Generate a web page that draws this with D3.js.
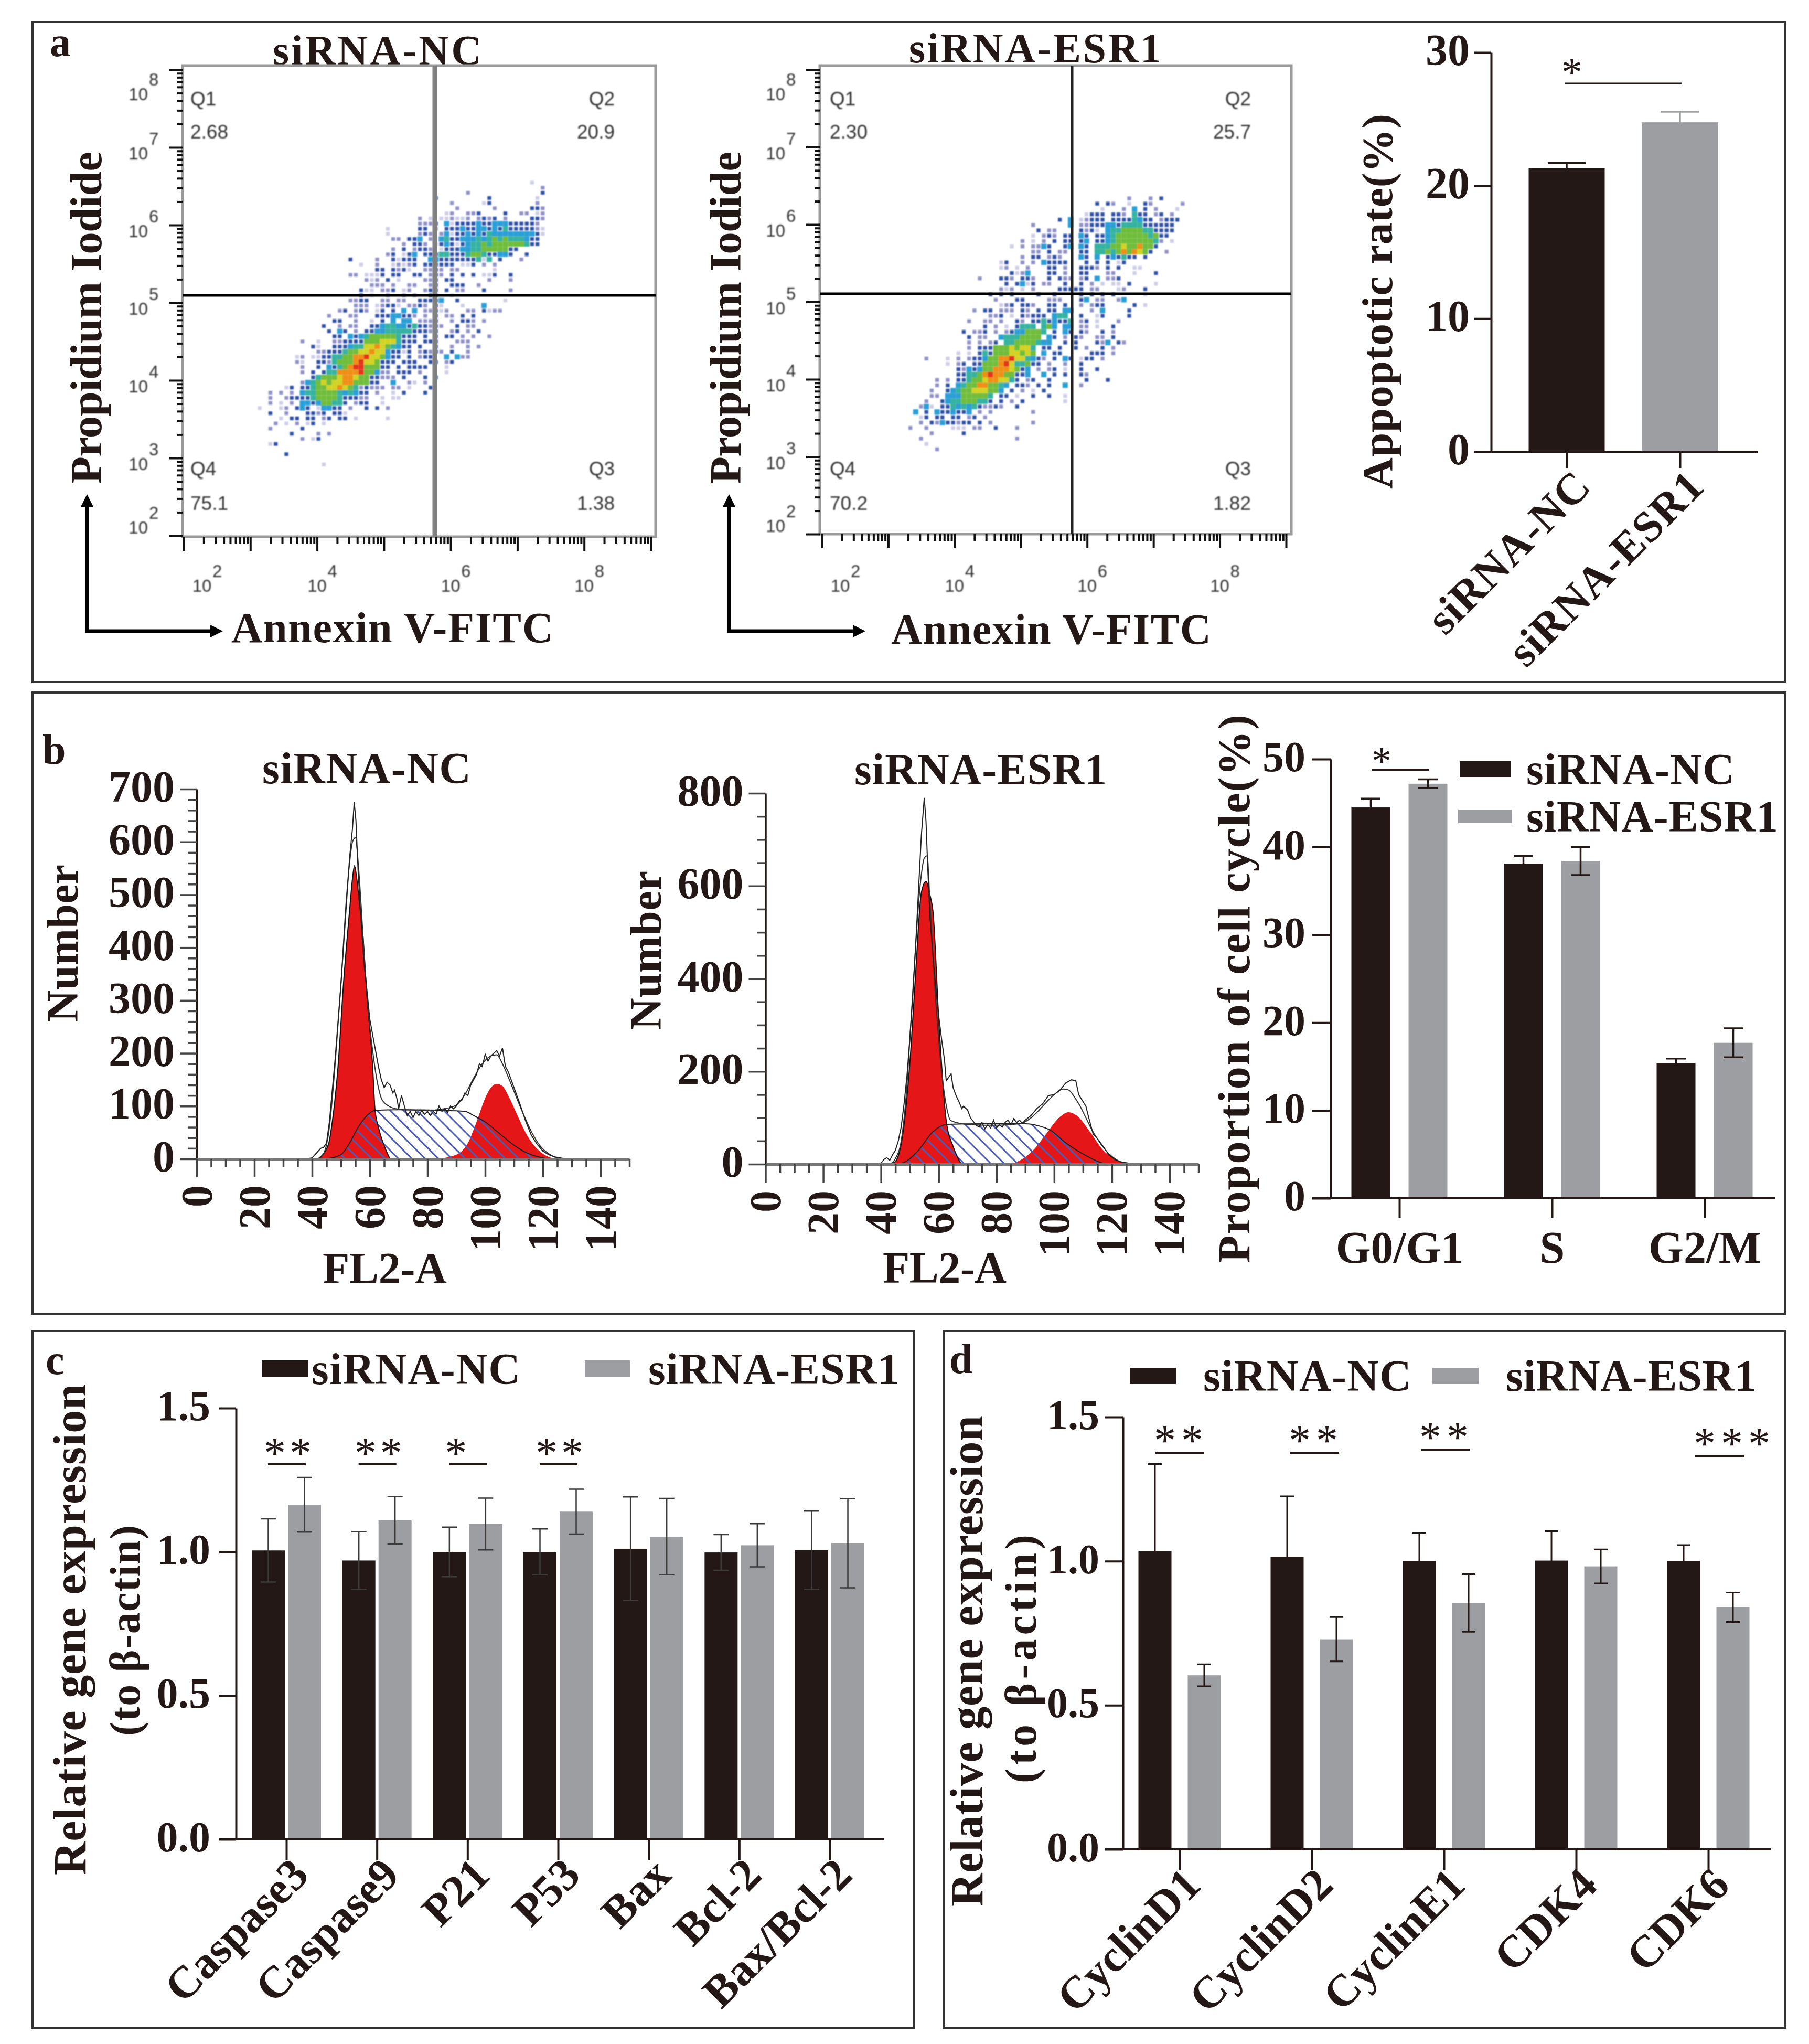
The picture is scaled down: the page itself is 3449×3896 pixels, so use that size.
<!DOCTYPE html>
<html>
<head>
<meta charset="utf-8">
<script src="https://cdn.jsdelivr.net/npm/d3@7"></script>
<style>
    body { margin: 0; background: #fff; }
    text { font-family: "Liberation Serif", serif; font-weight: bold; fill: #231815; }
    text.star { font-weight: normal; }
    .flowtxt text { font-family: "Liberation Sans", sans-serif; font-weight: normal; fill: #333; }
</style>
</head>
<body>
<svg width="3449" height="3896"></svg>
<script>
const black = '#231815', grey = '#9d9ea2';
const groups = ['siRNA-NC', 'siRNA-ESR1'];

// panel a, bars
const apoptosis = [21.3, 24.75];
const apoptosisErr = [0.4, 0.8];
const apoptosisTicks = [0, 10, 20, 30];

// panel a, quadrant percentages
const quadNC = ['2.68', '20.9', '1.38', '75.1'];
const quadESR = ['2.30', '25.7', '1.82', '70.2'];
const flowExpY = [8, 7, 6, 5, 4, 3, 2];
const flowExpX = [2, 4, 6, 8];

// panel a, density, one char per cell (. = empty, 1 pale ... 9 red)
const densityNC = [
".......... .......... .......... .......... .......... ..1",
".......... .......... .......... .......... .......... ....2",
".......... .......... .......... .......... 2......... ....3",
".......... .......... .......... ....3..... ....3..... ...1",
".......... .......... .......... .......2.. ...13..... ...2",
".......... .......... .......... ........2. .....2.... ..332",
".......... .......... .......... ......12.. 223....3.. 22.12",
".......... .......... .......... .2.1.11211 2.2323.2.. ..332",
".......... .......... .......... .2223.4133 3343344433 3332",
".......... .......... .....1.... .33.2.3334 3344343533 33321",
".......... .......... .....1.... .232.24133 4343544444 44431",
".......... .......... ......22.3 34.2.45334 4454565655 5433",
".......... .......... ........2. 332.134313 4556566666 6533",
".......... .......... ......2.3. 2332.13334 4556666633",
".......... .......... .....23.13 4.33355333 566533443. .3",
".......... ........3. ...2..3133 3..4433333 33515.3... 2",
".......... .......... 1..2..1212 3.333333.1 13.2.2",
".......... .......... ...33.3231 ..2232.22. .....1",
".......... ........22 .1113.33.. 33.232.3.3 .3.113..3",
".......... .......... .212.3.1.. ..223.33.. ....2...2",
".......... .......... ..222.2..2 2..23..333 ..2",
".......... .......... 311.223.12 ..233.3.22 ...3....2",
".......... .......... 3.1..2..2. 2..33..1..",
".......... ........22 33..22.22. .33334..3. .......1",
".......... .........2 22.12331.2 232.31...1 ...4",
".......... ......23.2 32.13.3.4. 4.22312... 22.3122",
".......... ....2...22 ...3334433 2.2.3.22.3 .3",
".......... .....33..2 ..1.3.4.44 .2223..2.3 32.2",
".......... ...3..2.22 ..33455443 533232..3. 22",
".......... ....3.43.2 .334455555 33323..23. 2.3",
".......... .....33.43 4566666533 3.3.3.33.2 .2..2",
".........2 ..1..22333 3666777533 3.333...22 2",
".......... .31..33345 5778765433 .3..3..2.. 2.2",
".......... ..22333566 7787743313 .23232.3.. 2",
"........12 .113355668 89776433.3 .233..4.42 2",
"........21 ..33256668 9776333.33 3..33.23..",
".........2 ..3.435689 966633.3.3 333...1...",
".........2 .3.3558888 966422.333 .2....1...",
".......... .356667887 6633222.3. ..3.3",
".........2 4567677886 6633..4..2 1.2",
"......13.3 3566778765 23222.22.1 ...3",
"...2.2.2.4 5566665454 33.2..1.3. ..3",
"...2..2333 3566665333 22..1.11",
"...2.1.2.4 43466553.2 33..1",
".1...12.34 3.14433.2. .3.3.2",
"...3..2... 3323.331",
".....1.33. 33.23.33.1 .....1",
"....2.1.2. 13.1",
"...2.....3",
".......3.. ..2.2",
".........2 .13",
"...13",
"",
"......3",
"",
".......... ...1"
];
const densityESR = [
"",
".......... .......... .......... .......... .2...2.3..",
".......... .......... .......... .....3.32. .1..32.... .2",
".......... .......... .......... ......1... 2.4.3.2... 1",
".......... .......... .......... ...1333.33 2.533.23.2",
".......... .......... ........3. 4.12333.33 335433.233 3",
".......... .......... ...2...... 4.22333443 5555333333",
".......... .......... ....3.22.. ..3231.455 6666553333",
".......... .......... ...1.232.3 3.43.33456 666665633.",
".......... .......... .2.1.2.3.3 3.34.33456 66666652.1",
".......... .........1 .2.2243..3 4.43.55566 7668663...",
".......... .......... ...22.3.22 ..33.55656 868763..2.",
".......... .......... .2.33.232. ..43.4.343 533.3.....",
".......... .......13. .2.2.43333 ...3.3.3.1 3",
".......... .......12. 1.2...33.2 ..3332.3.3 ..11",
".......... .........3 124...33.2 ..33...22. ..1...3",
".......... ...2...332 .332..3.32 2.23.4.223",
".......... ........3. 3413.22..3 ..3.2.1.11 .3....1",
".......... .......212 .1.2....33 333.22...1 2...3",
".......... .....3.3.3 ....3..3.. ..3.3.3.3. ....1",
".......... ......2... 33....222. ..34.22..2 4",
".......... .......123 .332..33.3 ..2.233... ..3.1",
".......... ..2.33.222 .32.3.33.4 4...2.4... .3",
".......... .....223.1 .32333.455 ..3..13... .3",
".......... .2..22.2.. 32.3353433 5.23.1...2",
".......... ....3.2.1. 3555.564.4 4.22.1..3.",
".......... 3.223.2.23 446665.3.4 3.32..3.2.",
".......... .3.22..455 56666.43.2 .32..22.3.",
".......... .2.2.23.55 6666544..3 .3...324.3 2",
".......... .2.3336667 6775.33.3. .3.2..3.2.",
".........1 .1.3536667 7676.4.33. ....333.2.",
"...2...1.2 .233466889 775432.3.4 3.133.2...",
".......1.2 3.33666897 55633.2..2 ..3",
".........3 2434668887 634.2.23.1 ..3..3",
".........3 3556898866 334..4.3.3 ..32",
".....2.2.3 3566788775 3.23..3... ...3...3",
".....2.3.4 566886654. 332.3.3..4 ..2",
"....2..345 66777664.3 .2.1.3",
"....22.444 666665.33. 1..3..3..1",
"...2..3455 666553.3.2 .3.......1",
"..241.3354 54532232.. 3",
".4.3.43343 34.2.2.... ...2",
"..13.33.33 .23.2",
"..2.324332 33.3.2.... ...2",
"2..2....11 1.22..3... 2",
"....2..... 3",
"..2....... .......... 2",
"...1",
".....2"
];
const densityColors = ['#cdcde6', '#8f90c6', '#2f4fa3', '#2b9fd6', '#34b3a0', '#6fbd3a', '#d2d321', '#ef8f12', '#e5301a'];

// panel b, histograms (channel, count)
const g1NC = [[42,0],[45.7,28],[47,70],[49,175],[51,340],[53,470],[54,530],[54.7,555],[55.5,530],[56.5,480],[57.5,432],[59,310],[61,175],[61.8,94],[63,60],[65,25],[67,0]];
const sNC = [[45,0],[50,8],[53,30],[56,60],[59,82],[62,92],[70,93],[85,92],[93,90],[96,82],[100,70],[105,48],[110,26],[115,10],[120,2],[122,0]];
const g2NC = [[83,0],[90,8],[94,30],[97,70],[100,115],[102,135],[104,142],[106,138],[108,120],[111,85],[114,50],[117,25],[120,10],[124,0]];
const rawNC = [[38,0],[40,2],[41,8],[42,14],[43,20],[44,22],[45,30],[46,70],[47,130],[48,190],[49,260],[50,330],[51,410],[52,490],[53,570],[54,625],[54.6,675],[55.2,640],[56,540],[57,450],[58,370],[59,320],[60,265],[61,235],[62,205],[63,175],[64,150],[65,135],[66,145],[67,140],[68,125],[68.6,130],[69.5,112],[70,95],[71,120],[72,100],[73,82],[74,90],[75,78],[76,90],[77,82],[78,92],[79,84],[80,90],[81,82],[82,90],[83,85],[84,100],[85,90],[86,95],[87,88],[88,100],[89,95],[90,100],[91,110],[92,112],[93,125],[94,120],[95,140],[96,150],[97,160],[98,180],[99,175],[100,198],[101,185],[102,195],[103,200],[104,205],[105,195],[106,210],[107,175],[108,165],[109,150],[110,135],[112,105],[114,72],[116,45],[118,28],[120,15],[122,8],[124,4],[126,2],[128,0]];
const fitNC = [[42,0],[44,10],[46,60],[48,180],[50,330],[52,500],[53,560],[54,600],[55,608],[56,560],[57,480],[58,390],[59,310],[60,250],[61,205],[62,165],[63,135],[64,115],[66,102],[69,95],[72,93],[80,92],[86,95],[90,102],[93,122],[96,153],[99,180],[102,195],[104,197],[106,180],[108,155],[110,128],[113,88],[116,52],[119,25],[122,10],[125,2],[128,0]];

const g1ESR = [[43,0],[45,6],[47.5,62],[50.4,252],[52,411],[54,586],[55.6,610],[57,580],[58,546],[60.2,292],[62.6,94],[65,38],[67.8,0]];
const sESR = [[46,0],[48.7,6],[53,30],[58,70],[63,86],[75,87],[90,87],[95,82],[98.5,74],[104,46],[110,22],[117,2],[119,0]];
const g2ESR = [[84,0],[85.7,2],[92.7,30],[97.3,66],[102,102],[105,112],[107.8,105],[112.4,70],[117,30],[122,8],[125,0]];
const rawESR = [[38,0],[40,2],[41,10],[42,14],[43,8],[44,20],[45,30],[46,50],[47,80],[48,130],[49,190],[50,270],[51,360],[52,470],[53,590],[54,710],[55,790],[55.6,740],[56.2,640],[57,530],[58,450],[59,380],[60,320],[61,270],[62,225],[62.6,180],[63.2,185],[64.3,195],[65,165],[66,148],[67,135],[68,120],[68.6,125],[70,117],[71,100],[72,92],[73,84],[74,80],[75,90],[76,76],[77,85],[78,78],[79,95],[80,78],[81,85],[82,80],[83,90],[84,95],[85,85],[86,98],[87,90],[88,95],[89,88],[90,95],[92,105],[94,120],[96,130],[98,148],[100,150],[102,160],[104,175],[106,182],[107.5,180],[108.5,150],[110,135],[111,125],[112,100],[113.5,65],[115,55],[117,38],[119,20],[121,10],[123,5],[126,2],[130,0]];
const fitESR = [[43,0],[45,12],[47,50],[49,170],[50,270],[51,370],[52,470],[53,560],[54,625],[55,660],[56,665],[57,560],[58,450],[59,350],[60,270],[61,200],[62,150],[63,115],[64,95],[66,90],[72,85],[80,84],[88,87],[92,100],[95,118],[98,138],[101,155],[103,162],[105,160],[107,145],[109,125],[111,100],[113,75],[116,45],[119,22],[122,8],[126,0]];

// panel b, cell cycle bars
const phases = ['G0/G1', 'S', 'G2/M'];
const phaseNC = [44.5, 38.1, 15.4];
const phaseNCErr = [1.0, 0.9, 0.5];
const phaseESR = [47.2, 38.4, 17.7];
const phaseESRErr = [0.5, 1.6, 1.65];
const phaseSig = [[0, '*', 48.8]];

// panel c
const apoGenes = ['Caspase3', 'Caspase9', 'P21', 'P53', 'Bax', 'Bcl-2', 'Bax/Bcl-2'];
const apoNC = [1.005, 0.97, 1.0, 1.0, 1.011, 0.998, 1.006];
const apoNCErr = [0.11, 0.10, 0.086, 0.08, 0.18, 0.062, 0.136];
const apoESR = [1.164, 1.11, 1.097, 1.14, 1.053, 1.023, 1.03];
const apoESRErr = [0.095, 0.082, 0.09, 0.078, 0.133, 0.075, 0.155];
const apoSig = [[0, '**', 1.305], [1, '**', 1.305], [2, '*', 1.305], [3, '**', 1.305]];

// panel d
const cycGenes = ['CyclinD1', 'CyclinD2', 'CyclinE1', 'CDK4', 'CDK6'];
const cycNC = [1.034, 1.014, 1.0, 1.002, 1.0];
const cycNCErr = [0.303, 0.211, 0.097, 0.102, 0.056];
const cycESR = [0.604, 0.729, 0.855, 0.982, 0.84];
const cycESRErr = [0.038, 0.077, 0.1, 0.059, 0.051];
const cycSig = [[0, '**', 1.376], [1, '**', 1.376], [2, '**', 1.387], [4, '***', 1.365]];

const svg = d3.select('svg');
const defs = svg.append('defs');
defs.append('filter').attr('id', 'soft').append('feGaussianBlur').attr('stdDeviation', 0.9);
defs.append('pattern').attr('id', 'hatch')
    .attr('patternUnits', 'userSpaceOnUse')
    .attr('width', 18).attr('height', 18)
    .attr('patternTransform', 'rotate(-45)')
    .append('rect').attr('width', 3).attr('height', 18).attr('fill', '#4a5db2');

// panel frames
const frames = [[62, 42, 3404, 1300], [62, 1320, 3404, 2505], [62, 2537, 1742, 3865], [1799, 2537, 3404, 3865]];
svg.selectAll('rect.frame').data(frames).join('rect')
    .attr('class', 'frame')
    .attr('x', d => d[0]).attr('y', d => d[1])
    .attr('width', d => d[2] - d[0]).attr('height', d => d[3] - d[1])
    .attr('fill', 'none').attr('stroke', '#333').attr('stroke-width', 4);

function label(str, x, y, size, len, rot) {
    const t = svg.append('text')
        .attr('transform', `translate(${x},${y})` + (rot ? ` rotate(${rot})` : ''))
        .attr('font-size', size)
        .text(str);
    if (len) t.attr('textLength', len).attr('lengthAdjust', 'spacing');
    return t;
}

function styleAxis(ax, size, w) {
    ax.select('.domain').attr('stroke', black).attr('stroke-width', w);
    ax.selectAll('.tick line').attr('stroke', black).attr('stroke-width', w);
    ax.selectAll('.tick text').attr('font-size', size).attr('fill', black);
}

// flow plot
function flowPlot(o) {
    const x = d3.scaleLog().domain([1e2, 1e9]).range(o.xr);
    const y = d3.scaleLog().domain([1e2, 1e8]).range(o.yr);
    const g = svg.append('g');
    const major = d => Math.abs(Math.log10(d) % 1) < 1e-6;

    const cells = [];
    o.grid.forEach((row, r) => {
        row.replace(/ /g, '').split('').forEach((c, k) => {
            if (c !== '.') cells.push({ r: r, k: k, v: +c });
        });
    });
    const cx = k => x(Math.pow(10, o.x0 + k * o.dx));
    const cy = r => y(Math.pow(10, o.y0 - r * o.dy));
    const shrink = d => d.v <= 3 ? 0.72 : 1;
    g.append('g').attr('filter', 'url(#soft)')
        .selectAll('rect').data(cells).join('rect')
        .attr('x', d => cx(d.k) + (cx(d.k + 1) - cx(d.k)) * (1 - shrink(d)) / 2)
        .attr('y', d => cy(d.r) + (cy(d.r + 1) - cy(d.r)) * (1 - shrink(d)) / 2)
        .attr('width', d => (cx(d.k + 1) - cx(d.k)) * shrink(d))
        .attr('height', d => (cy(d.r + 1) - cy(d.r)) * shrink(d))
        .attr('fill', d => densityColors[d.v - 1]);

    g.append('rect')
        .attr('x', o.box[0]).attr('y', o.box[1])
        .attr('width', o.box[2] - o.box[0]).attr('height', o.box[3] - o.box[1])
        .attr('fill', 'none').attr('stroke', '#9a9a9a').attr('stroke-width', 5);

    const ay = g.append('g').attr('transform', `translate(${o.box[0]},0)`)
        .call(d3.axisLeft(y).tickValues(y.ticks()).tickFormat('').tickSizeOuter(0));
    ay.select('.domain').remove();
    ay.selectAll('.tick line').attr('stroke', '#111').attr('stroke-width', 4)
        .attr('x2', d => major(d) ? -26 : -10);

    const ax = g.append('g').attr('transform', `translate(0,${o.box[3]})`)
        .call(d3.axisBottom(x).tickValues(x.ticks()).tickFormat('').tickSizeOuter(0));
    ax.select('.domain').remove();
    ax.selectAll('.tick line').attr('stroke', '#111').attr('stroke-width', 4)
        .attr('y2', d => major(d) ? 27 : 13);

    g.append('line').attr('x1', o.qx).attr('x2', o.qx).attr('y1', o.box[1]).attr('y2', o.box[3])
        .attr('stroke', o.qcol).attr('stroke-width', o.qw);
    g.append('line').attr('x1', o.box[0]).attr('x2', o.box[2]).attr('y1', o.qy).attr('y2', o.qy)
        .attr('stroke', '#000').attr('stroke-width', 5);

    const txt = g.append('g').attr('class', 'flowtxt').attr('filter', 'url(#soft)');
    const dyByExp = { 8: 46, 2: -16 };
    flowExpY.forEach(e => {
        const yy = y(Math.pow(10, e)) + (dyByExp[e] !== undefined ? dyByExp[e] : 11);
        txt.append('text').attr('x', o.box[0] - 66).attr('y', yy + 12).attr('text-anchor', 'end').attr('font-size', 33).text('10');
        txt.append('text').attr('x', o.box[0] - 64).attr('y', yy - 16).attr('font-size', 33).text(e);
    });
    flowExpX.forEach(e => {
        const xx = x(Math.pow(10, e)) + (e === 2 ? o.firstDx : 0);
        txt.append('text').attr('x', xx).attr('y', 1128).attr('text-anchor', 'middle').attr('font-size', 33).text('10');
        txt.append('text').attr('x', xx + 20).attr('y', 1100).attr('font-size', 33).text(e);
    });
    const names = ['Q1', 'Q2', 'Q3', 'Q4'];
    names.forEach((n, i) => {
        const right = i === 1 || i === 2;
        const top = i < 2;
        const px = right ? o.qRight : o.qLeft;
        txt.append('text').attr('x', px).attr('y', top ? 201 : 906)
            .attr('text-anchor', right ? 'end' : 'start').attr('font-size', 37).text(n);
        txt.append('text').attr('x', px).attr('y', top ? 264 : 972)
            .attr('text-anchor', right ? 'end' : 'start').attr('font-size', 37).text(o.quad[i]);
    });

    // corner arrow
    const p = d3.path();
    p.moveTo(o.ax, 942); p.lineTo(o.ax - 12, 966); p.lineTo(o.ax + 12, 966); p.closePath();
    p.moveTo(o.axEnd, 1203); p.lineTo(o.axEnd - 24, 1191); p.lineTo(o.axEnd - 24, 1215); p.closePath();
    svg.append('path').attr('d', p.toString()).attr('fill', '#000');
    svg.append('path')
        .attr('d', d3.line()([[o.ax, 960], [o.ax, 1203], [o.axEnd - 20, 1203]]))
        .attr('fill', 'none').attr('stroke', '#000').attr('stroke-width', 7);
}

label('siRNA-NC', 520, 123, 80, 398);
label('siRNA-ESR1', 1733, 119, 80, 481);
flowPlot({
    xr: [350, 1241], yr: [1021, 133], box: [348, 125, 1250, 1023], qx: 829, qy: 563, qcol: '#808080', qw: 9,
    grid: densityNC, x0: 3.02, dx: 0.08, y0: 6.58, dy: 0.066, quad: quadNC,
    firstDx: 35, qLeft: 363, qRight: 1172, ax: 166, axEnd: 425
});
flowPlot({
    xr: [1567, 2452], yr: [1018, 133], box: [1563, 125, 2462, 1018], qx: 2044, qy: 560, qcol: '#222', qw: 5,
    grid: densityESR, x0: 3.294, dx: 0.0805, y0: 6.442, dy: 0.069, quad: quadESR,
    firstDx: 35, qLeft: 1582, qRight: 2385, ax: 1390, axEnd: 1650
});
label('Propidium Iodide', 193, 922, 85, 633, -90);
label('Propidium Iodide', 1412, 922, 85, 633, -90);
label('Annexin V-FITC', 441, 1224, 82, 614);
label('Annexin V-FITC', 1699, 1227, 82, 610);
label('a', 95, 107, 80);

// bars with error bars
function bars(g, cats, vals, errs, x, y, off, bw, cap, col, errCol, errW) {
    const b = g.append('g').selectAll('g').data(cats).join('g')
        .attr('transform', d => `translate(${x(d) + off},0)`);
    b.append('rect')
        .attr('x', -bw / 2).attr('width', bw)
        .attr('y', (d, i) => y(vals[i])).attr('height', (d, i) => y(0) - y(vals[i]))
        .attr('fill', col);
    b.append('path')
        .attr('d', (d, i) => {
            const t = y(vals[i] + errs[i]), m = y(vals[i] - errs[i]);
            return `M${-cap / 2},${t}H${cap / 2}M0,${t}V${m}M${-cap / 2},${m}H${cap / 2}`;
        })
        .attr('fill', 'none').attr('stroke', errCol).attr('stroke-width', errW);
}

function stars(g, x, y, o) {
    o.sig.forEach((s, n) => {
        const cx = x.domain()[s[0]];
        const yy = y(s[2]);
        const shift = o.sigShift ? o.sigShift[n] : 0;
        g.append('line').attr('x1', x(cx) + o.lineL + shift).attr('x2', x(cx) + o.lineR + shift)
            .attr('y1', yy).attr('y2', yy).attr('stroke', black).attr('stroke-width', 4);
        s[1].split('').forEach((c, i) => {
            g.append('text').attr('class', 'star')
                .attr('x', x(cx) + o.starDx + shift + i * o.starGap).attr('y', yy - o.starLift)
                .attr('text-anchor', 'middle').attr('font-size', o.starSize).text(c);
        });
    });
}

function legend(rows) {
    rows.forEach(r => {
        svg.append('rect').attr('x', r.x0).attr('y', r.y0).attr('width', r.x1 - r.x0).attr('height', r.y1 - r.y0).attr('fill', r.c);
        label(r.t, r.tx, r.by, 84, r.len);
    });
}

// panel a bar chart
{
    const x = d3.scalePoint().domain(groups).range([2987, 3203]);
    const y = d3.scaleLinear().domain([0, 30]).range([861, 100]);
    const g = svg.append('g');
    bars(g, groups.slice(0, 1), apoptosis.slice(0, 1), apoptosisErr.slice(0, 1), x, y, 0, 145, 72, black, black, 3.5);
    bars(g, groups.slice(1), apoptosis.slice(1), apoptosisErr.slice(1), x, y, 0, 146, 73, grey, grey, 3.5);
    const ay = g.append('g').attr('transform', 'translate(2843,0)')
        .call(d3.axisLeft(y).tickValues(apoptosisTicks).tickSize(33).tickSizeOuter(0).tickPadding(8));
    styleAxis(ay, 84, 4);
    ay.selectAll('.tick text').attr('dy', '.28em');
    const ax = g.append('g').attr('transform', 'translate(0,861)')
        .call(d3.axisBottom(x).tickSize(31).tickSizeOuter(0));
    styleAxis(ax, 84, 4);
    ax.select('.domain').remove();
    ax.selectAll('.tick text').attr('text-anchor', 'end').attr('x', 0).attr('y', 0).attr('dy', 0)
        .attr('letter-spacing', 1.5)
        .attr('transform', 'translate(50,70) rotate(-45)');
    g.append('line').attr('x1', 2810).attr('x2', 3351).attr('y1', y(0)).attr('y2', y(0)).attr('stroke', black).attr('stroke-width', 4);
    g.append('line').attr('x1', 2984).attr('x2', 3207).attr('y1', 159).attr('y2', 159).attr('stroke', black).attr('stroke-width', 3);
    g.append('text').attr('class', 'star').attr('x', 2997).attr('y', 165).attr('text-anchor', 'middle').attr('font-size', 80).text('*');
    label('Appoptotic rate(%)', 2654, 932, 83, 715, -90);
}

// histogram panels
function histogram(o) {
    const x = d3.scaleLinear().domain([0, 150]).range(o.xr);
    const y = d3.scaleLinear().domain([0, o.ymax]).range(o.yr);
    const g = svg.append('g');
    const area = d3.area().x(d => x(d[0])).y0(y(0)).y1(d => y(d[1])).curve(d3.curveMonotoneX);
    const line = d3.line().x(d => x(d[0])).y(d => y(d[1])).curve(d3.curveMonotoneX);
    const rawLine = d3.line().x(d => x(d[0])).y(d => y(d[1]));

    g.append('path').attr('d', area(o.g1)).attr('fill', '#e41618');
    g.append('path').attr('d', area(o.g2)).attr('fill', '#e41618');
    g.append('path').attr('d', area(o.s)).attr('fill', 'url(#hatch)').attr('stroke', '#222').attr('stroke-width', 2);
    g.append('path').attr('d', line(o.g1)).attr('fill', 'none').attr('stroke', '#111').attr('stroke-width', 2);
    g.append('path').attr('d', line(o.fit)).attr('fill', 'none').attr('stroke', '#333').attr('stroke-width', 2);
    g.append('path').attr('d', rawLine(o.raw)).attr('fill', 'none').attr('stroke', '#222').attr('stroke-width', 2);

    const ay = g.append('g').attr('transform', `translate(${o.xr[0]},0)`)
        .call(d3.axisLeft(y).tickValues(d3.range(0, o.ymax + 1, o.minor)).tickSizeOuter(0)
            .tickFormat(d => d % o.major === 0 ? d : ''));
    styleAxis(ay, 84, 3.5);
    ay.selectAll('.tick line').attr('x2', d => d % o.major === 0 ? -32 : -16).attr('stroke', '#444');
    ay.selectAll('.tick text').attr('x', -42).attr('dy', '.28em');

    const ax = g.append('g').attr('transform', `translate(0,${y(0)})`)
        .call(d3.axisBottom(x).tickValues(d3.range(0, 151, 5)).tickSizeOuter(0)
            .tickFormat(d => d % 20 === 0 && d < 150 ? d : ''));
    styleAxis(ax, 84, 3.5);
    ax.select('.domain').attr('stroke', '#777').attr('stroke-width', 5);
    ax.selectAll('.tick line').attr('y2', d => d % 20 === 0 ? 35 : 16).attr('stroke', '#444');
    ax.selectAll('.tick text').attr('text-anchor', 'end').attr('x', 0).attr('y', 0).attr('dy', 0)
        .attr('transform', 'translate(28,50) rotate(-90)');
}

histogram({ xr: [375, 1200], yr: [2209, 1504], ymax: 700, minor: 20, major: 100, g1: g1NC, s: sNC, g2: g2NC, raw: rawNC, fit: fitNC });
histogram({ xr: [1459.5, 2285], yr: [2219, 1512], ymax: 800, minor: 50, major: 200, g1: g1ESR, s: sESR, g2: g2ESR, raw: rawESR, fit: fitESR });
label('b', 81, 1456, 80);
label('siRNA-NC', 500, 1493, 84, 398);
label('siRNA-ESR1', 1629, 1495, 84, 481);
label('Number', 148, 1948, 84, 300, -90);
label('Number', 1260, 1963, 84, 303, -90);
label('FL2-A', 615, 2446, 84, 237);
label('FL2-A', 1683, 2445, 84, 236);

// grouped bars for b, c and d
function grouped(o) {
    const x = d3.scalePoint().domain(o.cats).range(o.xr);
    const y = d3.scaleLinear().domain(o.dom).range(o.yr);
    const g = svg.append('g');
    bars(g, o.cats, o.nc, o.ncErr, x, y, -o.off, o.bw, o.cap, black, o.errCol, o.errW);
    bars(g, o.cats, o.esr, o.esrErr, x, y, o.off, o.bw, o.cap, grey, o.errCol, o.errW);
    const ay = g.append('g').attr('transform', `translate(${o.axisX},0)`)
        .call(d3.axisLeft(y).tickValues(o.ticks).tickFormat(o.fmt).tickSize(o.axisX - o.tickL).tickSizeOuter(0).tickPadding(o.pad));
    styleAxis(ay, o.tickFont, 4);
    ay.selectAll('.tick text').attr('dy', '.28em');
    const ax = g.append('g').attr('transform', `translate(0,${y(0)})`)
        .call(d3.axisBottom(x).tickSize(o.tickB).tickSizeOuter(0));
    styleAxis(ax, o.catFont, 4);
    ax.select('.domain').remove();
    if (o.rot) {
        ax.selectAll('.tick text').attr('text-anchor', 'end').attr('x', 0).attr('y', 0).attr('dy', 0)
            .attr('transform', `translate(${o.catDx},${o.catDy}) rotate(-45)`);
    } else {
        ax.selectAll('.tick text').attr('y', o.catDy).attr('dy', 0);
    }
    g.append('line').attr('x1', o.tickL).attr('x2', o.baseR).attr('y1', y(0)).attr('y2', y(0)).attr('stroke', black).attr('stroke-width', 4);
    stars(g, x, y, o);
}

grouped({
    cats: phases, xr: [2668, 3250], dom: [0, 50], yr: [2284, 1447], nc: phaseNC, ncErr: phaseNCErr, esr: phaseESR, esrErr: phaseESRErr,
    off: 54.5, bw: 74, cap: 37, errCol: black, errW: 3.5, axisX: 2537, tickL: 2502, baseR: 3384, ticks: [0, 10, 20, 30, 40, 50], fmt: d => d,
    pad: 13, tickFont: 82, tickB: 37, catFont: 86, catDy: 123,
    sig: phaseSig, lineL: -53, lineR: 57, starGap: 0, starSize: 76, starDx: -34, starLift: -9
});
label('Proportion of cell cycle(%)', 2382, 2407, 86, 1045, -90);
legend([
    { x0: 2783, y0: 1451, x1: 2880, y1: 1481, c: black, t: groups[0], tx: 2910, by: 1495, len: 397 },
    { x0: 2780, y0: 1543, x1: 2883, y1: 1569, c: grey, t: groups[1], tx: 2910, by: 1585, len: 480 }
]);

grouped({
    cats: apoGenes, xr: [546, 1582], dom: [0, 1.5], yr: [3506, 2684], nc: apoNC, ncErr: apoNCErr, esr: apoESR, esrErr: apoESRErr,
    off: 34.5, bw: 63, cap: 29, errCol: '#3d3a3a', errW: 2.5, axisX: 450, tickL: 418, baseR: 1686, ticks: [0, 0.5, 1, 1.5], fmt: d3.format('.1f'),
    pad: 17, tickFont: 82, tickB: 40, catFont: 86, rot: true, catDx: 46, catDy: 72,
    sig: apoSig, lineL: -35, lineR: 37, starGap: 49, starSize: 84, starDx: -22, starLift: -7
});
label('c', 87, 2619, 80);
label('Relative gene expression', 163, 3574, 88, 936, -90);
label('(to β-actin)', 266, 3309, 82, 402, -90);
legend([
    { x0: 499, y0: 2593, x1: 588, y1: 2624, c: black, t: groups[0], tx: 594, by: 2638, len: 398 },
    { x0: 1115, y0: 2593, x1: 1201, y1: 2624, c: grey, t: groups[1], tx: 1236, by: 2638, len: 479 }
]);

grouped({
    cats: cycGenes, xr: [2249, 3257], dom: [0, 1.5], yr: [3525, 2701], nc: cycNC, ncErr: cycNCErr, esr: cycESR, esrErr: cycESRErr,
    off: 47, bw: 63, cap: 26, errCol: black, errW: 3, axisX: 2141, tickL: 2107, baseR: 3377, ticks: [0, 0.5, 1, 1.5], fmt: d3.format('.1f'),
    pad: 11, tickFont: 80, tickB: 40, catFont: 86, rot: true, catDx: 44, catDy: 72,
    sig: cycSig, sigShift: [0, 5, 2, 21], lineL: -46, lineR: 47, starGap: 52, starSize: 84, starDx: -28, starLift: -5
});
label('d', 1810, 2617, 80);
label('Relative gene expression', 1873, 3634, 88, 936, -90);
label('(to β-actin)', 1975, 3399, 84, 474, -90);
legend([
    { x0: 2154, y0: 2607, x1: 2242, y1: 2638, c: black, t: groups[0], tx: 2294, by: 2651, len: 397 },
    { x0: 2731, y0: 2607, x1: 2819, y1: 2638, c: grey, t: groups[1], tx: 2871, by: 2651, len: 478 }
]);
</script>
</body>
</html>
